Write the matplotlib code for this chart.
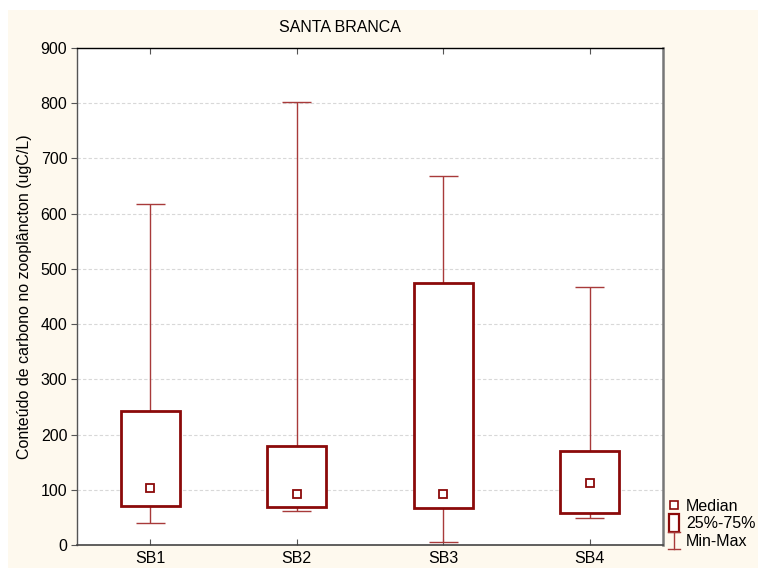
import matplotlib
matplotlib.use("Agg")
import matplotlib.pyplot as plt
from matplotlib.patches import Rectangle, Patch
from matplotlib.lines import Line2D
from matplotlib.legend_handler import HandlerBase

plt.rcParams['font.family'] = ['Liberation Sans', 'DejaVu Sans']

categories = ["SB1", "SB2", "SB3", "SB4"]
mins = [39, 61, 5, 48]
q1 = [70, 69, 67, 58]
medians = [103, 92, 93, 113]
q3 = [243, 180, 475, 170]
maxs = [618, 802, 668, 468]
yticks = [0, 100, 200, 300, 400, 500, 600, 700, 800, 900]

RED = "#8B0A0A"
WRED = "#A83A3A"
FS = 11.5

fig = plt.figure(figsize=(7.58, 5.68), dpi=100)
fig.patch.set_facecolor("white")
fig.patches.append(Rectangle((8/758, 0), 1 - 8/758, 1 - 10/568,
                             transform=fig.transFigure, facecolor="#FEF9EE",
                             edgecolor="none", zorder=-10))

ax = fig.add_axes([77/758, 1 - 545/568, (663 - 77)/758, (545 - 48)/568])
ax.set_facecolor("white")

pos = list(range(1, len(categories) + 1))
box_w = 0.4
cap_w = 0.2

for i, p in enumerate(pos):
    ax.vlines(p, q3[i], maxs[i], color=WRED, lw=1.0, zorder=2)
    ax.vlines(p, mins[i], q1[i], color=WRED, lw=1.0, zorder=2)
    ax.hlines([mins[i], maxs[i]], p - cap_w/2, p + cap_w/2, color=WRED, lw=1.0, zorder=2)

ax.bar(pos, [b - a for a, b in zip(q1, q3)], bottom=q1, width=box_w,
       facecolor="white", edgecolor=RED, linewidth=2.0, zorder=3)
ax.plot(pos, medians, ls="none", marker="s", ms=5.5, mfc="white", mec=RED, mew=1.3, zorder=4)

ax.set_xlim(0.5, 4.5)
ax.set_ylim(0, 900)
ax.set_xticks(pos)
ax.set_xticklabels(categories, fontsize=FS)
ax.set_yticks(yticks)
ax.set_yticklabels([str(t) for t in yticks], fontsize=FS)
ax.tick_params(axis="x", direction="in", top=True, bottom=True, length=4, color="#555555", pad=4)
ax.tick_params(axis="y", direction="out", length=4, color="#555555", pad=3)
for t in yticks[1:-1]:
    ax.axhline(t, color="#D8D8D8", lw=0.8, ls=(0, (3, 2)), zorder=0)

ax.spines["top"].set_color("black")
ax.spines["top"].set_linewidth(1.0)
ax.spines["left"].set_color("#555555")
ax.spines["left"].set_linewidth(1.0)
ax.spines["bottom"].set_color("#444444")
ax.spines["bottom"].set_linewidth(1.2)
ax.spines["right"].set_color("#777777")
ax.spines["right"].set_linewidth(1.8)

ax.set_ylabel("Conteúdo de carbono no zooplâncton (ugC/L)", fontsize=FS, labelpad=6)
fig.text(340/758, 1 - 28/568, "SANTA BRANCA", ha="center", va="center", fontsize=FS)


class HandlerMinMax(HandlerBase):
    def create_artists(self, legend, orig_handle, xdescent, ydescent, width, height, fontsize, trans):
        cx = width / 2 - xdescent
        cy = height / 2 - ydescent
        y0, y1 = cy - 6.0, cy + 6.0
        hw = 4.2
        return [Line2D([cx, cx], [y0, y1], color=WRED, lw=1.0, transform=trans),
                Line2D([cx - hw, cx + hw], [y0, y0], color=WRED, lw=1.0, transform=trans),
                Line2D([cx - hw, cx + hw], [y1, y1], color=WRED, lw=1.0, transform=trans)]


class HandlerBox(HandlerBase):
    def create_artists(self, legend, orig_handle, xdescent, ydescent, width, height, fontsize, trans):
        cx = width / 2 - xdescent
        cy = height / 2 - ydescent
        w, h = 7.0, 13.0
        return [Rectangle((cx - w/2, cy - h/2), w, h, facecolor="white",
                          edgecolor=RED, lw=1.6, transform=trans)]


h_med = Line2D([], [], ls="none", marker="s", ms=5.5, mfc="white", mec=RED, mew=1.2)
h_box = Patch(facecolor="white", edgecolor=RED)
h_mm = Line2D([], [], color=WRED)
leg = fig.legend([h_med, h_box, h_mm], ["Median", "25%-75%", "Min-Max"],
                 handler_map={h_box: HandlerBox(), h_mm: HandlerMinMax()},
                 loc="center left", bbox_to_anchor=(666/758, 1 - 524/568),
                 frameon=False, fontsize=FS, handlelength=1.0, handletextpad=0.25,
                 labelspacing=0.16, borderpad=0.0, borderaxespad=0.0)

fig.savefig("out.png", dpi=100, facecolor=fig.get_facecolor())
